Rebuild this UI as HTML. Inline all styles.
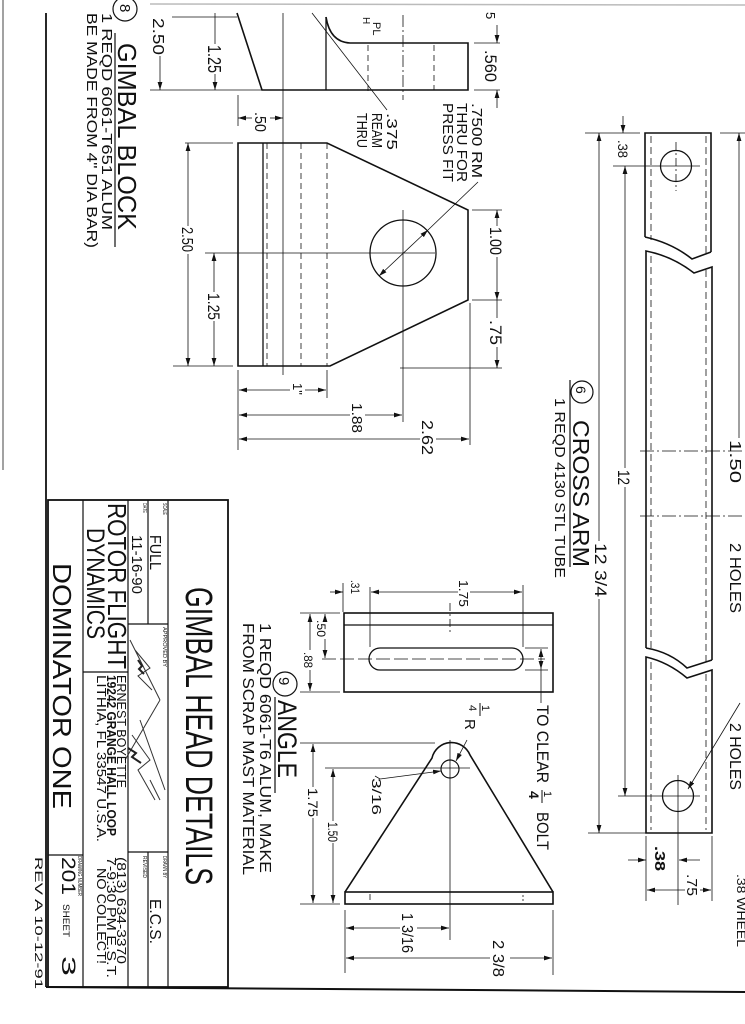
<!DOCTYPE html>
<html><head><meta charset="utf-8"><style>
html,body{margin:0;padding:0;background:#fff;}
svg{display:block;}
text{font-family:"Liberation Sans",sans-serif;fill:#111;}
</style></head><body>
<svg width="745" height="1024" viewBox="0 0 745 1024" xmlns="http://www.w3.org/2000/svg">
<defs>
<marker id="a" viewBox="0 0 10 6" refX="10" refY="3" markerWidth="8" markerHeight="5" markerUnits="userSpaceOnUse" orient="auto-start-reverse"><path d="M0,0 L10,3 L0,6z" fill="#111"/></marker>
</defs>
<rect width="745" height="1024" fill="#fff"/>
<line x1="150" y1="4" x2="745" y2="5" stroke="#bbb" stroke-width="1.5"/>
<line x1="3" y1="0" x2="3" y2="470" stroke="#444" stroke-width="1"/>

<!-- frame -->
<g stroke="#111" fill="none">
<line x1="46" y1="13" x2="46" y2="987" stroke-width="1.8"/>
<line x1="46" y1="987" x2="745" y2="992" stroke-width="2"/>
<!-- title block -->
<rect x="48" y="500" width="180" height="487" stroke-width="1.8"/>
<line x1="83" y1="500" x2="83" y2="987" stroke-width="1.2"/>
<line x1="128" y1="500" x2="128" y2="987" stroke-width="1.2"/>
<line x1="148" y1="500" x2="148" y2="624" stroke-width="1.2"/>
<line x1="148" y1="852" x2="148" y2="987" stroke-width="1.2"/>
<line x1="168" y1="500" x2="168" y2="987" stroke-width="1.2"/>
<line x1="128" y1="624" x2="168" y2="624" stroke-width="1.2"/>
<line x1="128" y1="852" x2="168" y2="852" stroke-width="1.2"/>
<line x1="83" y1="672" x2="128" y2="672" stroke-width="1.2"/>
<line x1="48" y1="855" x2="83" y2="855" stroke-width="1.2"/>
<!-- signature scribbles -->
<path d="M130,640 L160,700 M135,650 L150,668 L138,676 L152,690 M160,700 L125,760 M140,720 L165,790 M132,735 L150,760 L138,770 L155,800 M150,780 L160,800" stroke-width="1" stroke="#333"/>
<path d="M138,660 l4,6 l-3,3 l5,5 M128,748 l8,5 l-4,4 l9,6" stroke-width="2" stroke="#222"/>
</g>

<!-- title texts -->
<g>
<text transform="translate(186,587) rotate(90)" font-size="38" textLength="298" lengthAdjust="spacingAndGlyphs">GIMBAL HEAD DETAILS</text>
<text transform="translate(163,503) rotate(90)" font-size="5" textLength="12" lengthAdjust="spacingAndGlyphs">SCALE</text>
<text transform="translate(150,535) rotate(90)" font-size="16" textLength="35" lengthAdjust="spacingAndGlyphs">FULL</text>
<text transform="translate(143,503) rotate(90)" font-size="5" textLength="10" lengthAdjust="spacingAndGlyphs">DATE</text>
<text transform="translate(132,535) rotate(90)" font-size="15" textLength="59" lengthAdjust="spacingAndGlyphs">11-16-90</text>
<text transform="translate(108,503) rotate(90)" font-size="26" textLength="166" lengthAdjust="spacingAndGlyphs">ROTOR FLIGHT</text>
<text transform="translate(87,528) rotate(90)" font-size="25" textLength="111" lengthAdjust="spacingAndGlyphs">DYNAMICS</text>
<text transform="translate(163,627) rotate(90)" font-size="5" textLength="40" lengthAdjust="spacingAndGlyphs">APPROVED BY</text>
<text transform="translate(117,675) rotate(90)" font-size="13" textLength="113" lengthAdjust="spacingAndGlyphs">ERNEST BOYETTE</text>
<text transform="translate(117,857) rotate(90)" font-size="13" textLength="107" lengthAdjust="spacingAndGlyphs">(813) 634-3370</text>
<text transform="translate(107,675) rotate(90)" font-size="13" font-weight="bold" textLength="161" lengthAdjust="spacingAndGlyphs">19242 GRANGE HALL LOOP</text>
<text transform="translate(107,857) rotate(90)" font-size="13" textLength="121" lengthAdjust="spacingAndGlyphs">7-9:30 PM E.S.T.</text>
<text transform="translate(97,675) rotate(90)" font-size="13" textLength="167" lengthAdjust="spacingAndGlyphs">LITHIA, FL 33547 U.S.A.</text>
<text transform="translate(97,868) rotate(90)" font-size="13" textLength="96" lengthAdjust="spacingAndGlyphs">NO COLLECT!</text>
<text transform="translate(53,563) rotate(90)" font-size="26" textLength="246" lengthAdjust="spacingAndGlyphs">DOMINATOR ONE</text>
<text transform="translate(163,856) rotate(90)" font-size="5" textLength="22" lengthAdjust="spacingAndGlyphs">DRAWN BY</text>
<text transform="translate(150,899) rotate(90)" font-size="16" textLength="45" lengthAdjust="spacingAndGlyphs">E.C.S.</text>
<text transform="translate(143,856) rotate(90)" font-size="5" textLength="22" lengthAdjust="spacingAndGlyphs">REVISED</text>
<text transform="translate(78,856) rotate(90)" font-size="5" textLength="40" lengthAdjust="spacingAndGlyphs">DRAWING NUMBER</text>
<text transform="translate(62,857) rotate(90)" font-size="19" textLength="38" lengthAdjust="spacingAndGlyphs">201</text>
<text transform="translate(63,904) rotate(90)" font-size="9" textLength="33" lengthAdjust="spacingAndGlyphs">SHEET</text>
<text transform="translate(62,956) rotate(90)" font-size="19" textLength="20" lengthAdjust="spacingAndGlyphs">3</text>
<text transform="translate(35,857) rotate(90)" font-size="11" textLength="132" lengthAdjust="spacingAndGlyphs">REV A 10-12-91</text>
</g>

<!-- GIMBAL BLOCK -->
<g stroke="#111" fill="none">
<circle cx="125" cy="9" r="12" stroke-width="1.2"/>
<line x1="115" y1="33" x2="115" y2="247" stroke-width="1.2"/>
<!-- side view -->
<path d="M237,13 L262,90 L468,90 L468,43 L350,43 Q330,42 326,17" stroke-width="1.6"/>
<line x1="326" y1="17" x2="326" y2="90" stroke-width="1.3"/>
<line x1="283" y1="13" x2="283" y2="375" stroke-width="0.8"/>
<line x1="368" y1="45" x2="368" y2="92" stroke-width="0.8" stroke-dasharray="6,4"/>
<line x1="403" y1="15" x2="403" y2="100" stroke-width="0.8" stroke-dasharray="12,3,2,3"/>
<line x1="434" y1="45" x2="434" y2="90" stroke-width="0.8" stroke-dasharray="6,4"/>
<line x1="312" y1="13" x2="387" y2="110" stroke-width="0.8"/>
<!-- .560 -->
<line x1="474" y1="43" x2="500" y2="43" stroke-width="0.8"/>
<line x1="474" y1="90" x2="500" y2="90" stroke-width="0.8"/>
<line x1="497" y1="25" x2="497" y2="43" stroke-width="0.8" marker-end="url(#a)"/>
<line x1="497" y1="108" x2="497" y2="90" stroke-width="0.8" marker-end="url(#a)"/>
<!-- 2.50 top -->
<line x1="150" y1="90" x2="262" y2="90" stroke-width="0.8"/>
<line x1="172" y1="17" x2="237" y2="17" stroke-width="0.8"/>
<line x1="160" y1="56" x2="160" y2="90" stroke-width="0.8" marker-end="url(#a)"/>
<line x1="215" y1="13" x2="215" y2="44" stroke-width="0.8"/>
<line x1="215" y1="74" x2="215" y2="90" stroke-width="0.8" marker-end="url(#a)"/>
<!-- .50 -->
<line x1="238" y1="95" x2="238" y2="126" stroke-width="0.8"/>
<line x1="252" y1="118" x2="238" y2="118" stroke-width="0.8" marker-end="url(#a)"/>
<line x1="270" y1="118" x2="283" y2="118" stroke-width="0.8" marker-end="url(#a)"/>
<!-- front view -->
<path d="M238,143 L327,143 L468,210 L468,300 L330,366 L238,366 Z" stroke-width="1.6"/>
<line x1="263" y1="143" x2="263" y2="366" stroke-width="1.3"/>
<line x1="267" y1="143" x2="267" y2="366" stroke-width="0.8" stroke-dasharray="6,4"/>
<line x1="301" y1="143" x2="301" y2="366" stroke-width="0.8" stroke-dasharray="6,4"/>
<line x1="327" y1="143" x2="327" y2="366" stroke-width="0.8" stroke-dasharray="6,4"/>
<circle cx="403" cy="253" r="33" stroke-width="1.3"/>
<line x1="205" y1="253" x2="435" y2="253" stroke-width="0.8"/>
<line x1="403" y1="210" x2="403" y2="422" stroke-width="0.8"/>
<line x1="478" y1="182" x2="428" y2="230" stroke-width="0.8"/>
<line x1="428" y1="230" x2="379" y2="276" stroke-width="0.8" marker-start="url(#a)" marker-end="url(#a)"/>
<!-- 2.50 lower -->
<line x1="185" y1="143" x2="233" y2="143" stroke-width="0.8"/>
<line x1="173" y1="366" x2="233" y2="366" stroke-width="0.8"/>
<line x1="188" y1="226" x2="188" y2="143" stroke-width="0.8" marker-end="url(#a)"/>
<line x1="188" y1="254" x2="188" y2="366" stroke-width="0.8" marker-end="url(#a)"/>
<line x1="214" y1="292" x2="214" y2="253" stroke-width="0.8" marker-end="url(#a)"/>
<line x1="214" y1="321" x2="214" y2="366" stroke-width="0.8" marker-end="url(#a)"/>
<!-- 1.00 / .75 -->
<line x1="472" y1="210" x2="502" y2="210" stroke-width="0.8"/>
<line x1="472" y1="300" x2="502" y2="300" stroke-width="0.8"/>
<line x1="400" y1="368" x2="502" y2="368" stroke-width="0.8"/>
<line x1="497" y1="226" x2="497" y2="210" stroke-width="0.8" marker-end="url(#a)"/>
<line x1="497" y1="257" x2="497" y2="300" stroke-width="0.8" marker-end="url(#a)"/>
<line x1="497" y1="300" x2="497" y2="318" stroke-width="0.8"/>
<line x1="497" y1="347" x2="497" y2="368" stroke-width="0.8" marker-end="url(#a)"/>
<!-- 1" 1.88 2.62 -->
<line x1="238" y1="370" x2="238" y2="450" stroke-width="0.8"/>
<line x1="327" y1="370" x2="327" y2="398" stroke-width="0.8"/>
<line x1="470" y1="303" x2="470" y2="445" stroke-width="0.8"/>
<line x1="290" y1="390" x2="239" y2="390" stroke-width="0.8" marker-end="url(#a)"/>
<line x1="305" y1="390" x2="326" y2="390" stroke-width="0.8" marker-end="url(#a)"/>
<line x1="350" y1="415" x2="239" y2="415" stroke-width="0.8" marker-end="url(#a)"/>
<line x1="365" y1="415" x2="402" y2="415" stroke-width="0.8" marker-end="url(#a)"/>
<line x1="420" y1="439" x2="239" y2="439" stroke-width="0.8" marker-end="url(#a)"/>
<line x1="436" y1="439" x2="469" y2="439" stroke-width="0.8" marker-end="url(#a)"/>
</g>
<g>
<text transform="translate(120,4) rotate(90)" font-size="15">8</text>
<text transform="translate(118,43) rotate(90)" font-size="26" textLength="187" lengthAdjust="spacingAndGlyphs">GIMBAL BLOCK</text>
<text transform="translate(102,13) rotate(90)" font-size="15" textLength="217" lengthAdjust="spacingAndGlyphs">1 REQD  6061-T651 ALUM</text>
<text transform="translate(87,13) rotate(90)" font-size="15" textLength="235" lengthAdjust="spacingAndGlyphs">BE MADE FROM 4" DIA BAR)</text>
<text transform="translate(153,18) rotate(90)" font-size="16" textLength="37" lengthAdjust="spacingAndGlyphs">2.50</text>
<text transform="translate(208,45) rotate(90)" font-size="18" textLength="28" lengthAdjust="spacingAndGlyphs">1.25</text>
<text transform="translate(255,112) rotate(90)" font-size="16" textLength="20" lengthAdjust="spacingAndGlyphs">.50</text>
<text transform="translate(373,22) rotate(90)" font-size="11">PL</text>
<text transform="translate(363,17) rotate(90)" font-size="10">H</text>
<text transform="translate(387,113) rotate(90)" font-size="15" textLength="37" lengthAdjust="spacingAndGlyphs">.375</text>
<text transform="translate(372,113) rotate(90)" font-size="15" textLength="35" lengthAdjust="spacingAndGlyphs">REAM</text>
<text transform="translate(357,113) rotate(90)" font-size="15" textLength="35" lengthAdjust="spacingAndGlyphs">THRU</text>
<text transform="translate(472,103) rotate(90)" font-size="15" textLength="75" lengthAdjust="spacingAndGlyphs">.7500 RM</text>
<text transform="translate(457,103) rotate(90)" font-size="15" textLength="79" lengthAdjust="spacingAndGlyphs">THRU FOR</text>
<text transform="translate(443,103) rotate(90)" font-size="15" textLength="79" lengthAdjust="spacingAndGlyphs">PRESS FIT</text>
<text transform="translate(485,50) rotate(90)" font-size="17" textLength="32" lengthAdjust="spacingAndGlyphs">.560</text>
<text transform="translate(486,12) rotate(90)" font-size="13">5</text>
<text transform="translate(182,227) rotate(90)" font-size="16" textLength="25" lengthAdjust="spacingAndGlyphs">2.50</text>
<text transform="translate(208,293) rotate(90)" font-size="17" textLength="27" lengthAdjust="spacingAndGlyphs">1.25</text>
<text transform="translate(490,227) rotate(90)" font-size="17" textLength="28" lengthAdjust="spacingAndGlyphs">1.00</text>
<text transform="translate(490,320) rotate(90)" font-size="17" textLength="25" lengthAdjust="spacingAndGlyphs">.75</text>
<text transform="translate(293,383) rotate(90)" font-size="13">1"</text>
<text transform="translate(352,403) rotate(90)" font-size="15" textLength="30" lengthAdjust="spacingAndGlyphs">1.88</text>
<text transform="translate(422,420) rotate(90)" font-size="16" textLength="35" lengthAdjust="spacingAndGlyphs">2.62</text>
</g>

<!-- CROSS ARM -->
<g stroke="#111" fill="none">
<path d="M645,237 L645,133 L711,133 L711,252" stroke-width="1.6"/>
<path d="M645,237 Q672,243 692,259 L711,252" stroke-width="1.6"/>
<path d="M646,648 L646,251 Q672,256 694,273 L712,267 L712,660" stroke-width="1.6"/>
<path d="M646,648 Q670,652 687,668 L712,660" stroke-width="1.6"/>
<path d="M646,657 Q668,662 687,678 L712,670 L712,833 L646,833 Z" stroke-width="1.6"/>
<g stroke-width="0.8" stroke-dasharray="7,4">
<line x1="651" y1="136" x2="651" y2="240"/><line x1="706" y1="136" x2="706" y2="254"/>
<line x1="651" y1="256" x2="651" y2="650"/><line x1="706" y1="270" x2="706" y2="662"/>
<line x1="651" y1="662" x2="651" y2="830"/><line x1="706" y1="674" x2="706" y2="830"/>
</g>
<circle cx="676" cy="166" r="15.5" stroke-width="1.3"/>
<circle cx="678" cy="796" r="15.5" stroke-width="1.3"/>
<line x1="613" y1="166" x2="700" y2="166" stroke-width="0.8"/>
<line x1="676" y1="142" x2="676" y2="191" stroke-width="0.8" stroke-dasharray="8,3,2,3"/>
<line x1="618" y1="796" x2="700" y2="796" stroke-width="0.8"/>
<line x1="678" y1="775" x2="678" y2="905" stroke-width="0.8"/>
<line x1="640" y1="451" x2="745" y2="451" stroke-width="0.8" stroke-dasharray="14,3,2,3"/>
<line x1="640" y1="516" x2="745" y2="516" stroke-width="0.8" stroke-dasharray="14,3,2,3"/>
<line x1="585" y1="133" x2="640" y2="133" stroke-width="0.8"/>
<line x1="623" y1="116" x2="623" y2="133" stroke-width="0.8" marker-end="url(#a)"/>
<line x1="625" y1="468" x2="625" y2="166" stroke-width="0.8" marker-end="url(#a)"/>
<line x1="625" y1="487" x2="625" y2="796" stroke-width="0.8" marker-end="url(#a)"/>
<line x1="599" y1="541" x2="599" y2="133" stroke-width="0.8" marker-end="url(#a)"/>
<line x1="599" y1="599" x2="599" y2="833" stroke-width="0.8" marker-end="url(#a)"/>
<line x1="588" y1="833" x2="646" y2="833" stroke-width="0.8"/>
<line x1="720" y1="133" x2="745" y2="133" stroke-width="0.8"/>
<line x1="739" y1="438" x2="739" y2="133" stroke-width="0.8" marker-end="url(#a)"/>
<line x1="740" y1="703" x2="688" y2="789" stroke-width="0.8" marker-end="url(#a)"/>
<circle cx="582" cy="392" r="11" stroke-width="1.2"/>
<line x1="570" y1="380" x2="570" y2="567" stroke-width="1.2"/>
<!-- bottom dims -->
<line x1="646" y1="836" x2="646" y2="901" stroke-width="0.8"/>
<line x1="712" y1="836" x2="712" y2="901" stroke-width="0.8"/>
<line x1="628" y1="860" x2="646" y2="860" stroke-width="0.8" marker-end="url(#a)"/>
<line x1="700" y1="860" x2="679" y2="860" stroke-width="0.8" marker-end="url(#a)"/>
<line x1="685" y1="890" x2="647" y2="890" stroke-width="0.8" marker-end="url(#a)"/>
<line x1="700" y1="890" x2="711" y2="890" stroke-width="0.8" marker-end="url(#a)"/>
</g>
<g>
<text transform="translate(618,140) rotate(90)" font-size="14" textLength="18" lengthAdjust="spacingAndGlyphs">.38</text>
<text transform="translate(618,470) rotate(90)" font-size="17" textLength="15" lengthAdjust="spacingAndGlyphs">12</text>
<text transform="translate(595,543) rotate(90)" font-size="17" textLength="54" lengthAdjust="spacingAndGlyphs">12 3/4</text>
<text transform="translate(576,386) rotate(90)" font-size="14">6</text>
<text transform="translate(573,420) rotate(90)" font-size="23" textLength="147" lengthAdjust="spacingAndGlyphs">CROSS ARM</text>
<text transform="translate(555,398) rotate(90)" font-size="15" textLength="180" lengthAdjust="spacingAndGlyphs">1 REQD 4130 STL TUBE</text>
<text transform="translate(730,440) rotate(90)" font-size="16" textLength="43" lengthAdjust="spacingAndGlyphs">1.50</text>
<text transform="translate(730,543) rotate(90)" font-size="16" textLength="70" lengthAdjust="spacingAndGlyphs">2 HOLES</text>
<text transform="translate(730,723) rotate(90)" font-size="16" textLength="67" lengthAdjust="spacingAndGlyphs">2 HOLES</text>
<text transform="translate(655,846) rotate(90)" font-size="15" font-weight="bold" textLength="25" lengthAdjust="spacingAndGlyphs">.38</text>
<text transform="translate(687,874) rotate(90)" font-size="15" textLength="22" lengthAdjust="spacingAndGlyphs">.75</text>
<text transform="translate(737,874) rotate(90)" font-size="12" textLength="73" lengthAdjust="spacingAndGlyphs">.38 WHEEL</text>
</g>

<!-- ANGLE -->
<g stroke="#111" fill="none">
<rect x="344" y="613" width="209" height="79" stroke-width="1.6"/>
<line x1="344" y1="625" x2="553" y2="625" stroke-width="1.3"/>
<rect x="369" y="648" width="154" height="22" rx="11" stroke-width="1.3"/>
<line x1="322" y1="659" x2="545" y2="659" stroke-width="0.8" stroke-dasharray="14,4"/>
<line x1="450" y1="603" x2="450" y2="632" stroke-width="0.8" stroke-dasharray="8,3,2,3"/>
<line x1="343" y1="583" x2="343" y2="612" stroke-width="0.8"/>
<line x1="370" y1="587" x2="370" y2="647" stroke-width="0.8"/>
<line x1="523" y1="585" x2="523" y2="647" stroke-width="0.8"/>
<line x1="330" y1="592" x2="343" y2="592" stroke-width="0.8" marker-end="url(#a)"/>
<line x1="458" y1="592" x2="371" y2="592" stroke-width="0.8" marker-end="url(#a)"/>
<line x1="470" y1="592" x2="522" y2="592" stroke-width="0.8" marker-end="url(#a)"/>
<line x1="300" y1="613" x2="340" y2="613" stroke-width="0.8"/>
<line x1="300" y1="692" x2="340" y2="692" stroke-width="0.8"/>
<line x1="325" y1="619" x2="325" y2="614" stroke-width="0.8" marker-end="url(#a)"/>
<line x1="325" y1="639" x2="325" y2="658" stroke-width="0.8" marker-end="url(#a)"/>
<line x1="310" y1="650" x2="310" y2="614" stroke-width="0.8" marker-end="url(#a)"/>
<line x1="310" y1="670" x2="310" y2="691" stroke-width="0.8" marker-end="url(#a)"/>
<line x1="525" y1="648" x2="548" y2="648" stroke-width="0.8"/>
<line x1="525" y1="670" x2="548" y2="670" stroke-width="0.8"/>
<line x1="541" y1="649" x2="541" y2="669" stroke-width="0.8" marker-start="url(#a)" marker-end="url(#a)"/>
<line x1="541" y1="669" x2="541" y2="703" stroke-width="0.8"/>
<circle cx="285" cy="684" r="12" stroke-width="1.2"/>
<line x1="275" y1="697" x2="275" y2="793" stroke-width="1.2"/>
<!-- triangle -->
<path d="M345,892 L432,758 A20,20 0 0 1 470,755 L553,892" stroke-width="1.6"/>
<rect x="345" y="892" width="208" height="12" stroke-width="1.6"/>
<line x1="370" y1="894" x2="370" y2="900" stroke-width="0.8"/>
<line x1="523" y1="895" x2="523" y2="901" stroke-width="0.8" stroke-dasharray="2,2"/>
<circle cx="450" cy="769" r="9" stroke-width="1.2"/>
<line x1="325" y1="768" x2="470" y2="768" stroke-width="0.8"/>
<line x1="450" y1="740" x2="450" y2="940" stroke-width="0.8"/>
<line x1="467" y1="740" x2="456" y2="761" stroke-width="0.8" marker-end="url(#a)"/>
<polyline points="375,776 380,779 441,771" stroke-width="0.8" marker-end="url(#a)"/>
<line x1="300" y1="743" x2="435" y2="743" stroke-width="0.8"/>
<line x1="300" y1="904" x2="340" y2="904" stroke-width="0.8"/>
<line x1="313" y1="787" x2="313" y2="744" stroke-width="0.8" marker-end="url(#a)"/>
<line x1="313" y1="818" x2="313" y2="903" stroke-width="0.8" marker-end="url(#a)"/>
<line x1="333" y1="821" x2="333" y2="769" stroke-width="0.8" marker-end="url(#a)"/>
<line x1="333" y1="843" x2="333" y2="903" stroke-width="0.8" marker-end="url(#a)"/>
<line x1="345" y1="910" x2="345" y2="973" stroke-width="0.8"/>
<line x1="553" y1="910" x2="553" y2="975" stroke-width="0.8"/>
<line x1="400" y1="928" x2="346" y2="928" stroke-width="0.8" marker-end="url(#a)"/>
<line x1="417" y1="928" x2="449" y2="928" stroke-width="0.8" marker-end="url(#a)"/>
<line x1="490" y1="958" x2="346" y2="958" stroke-width="0.8" marker-end="url(#a)"/>
<line x1="510" y1="958" x2="552" y2="958" stroke-width="0.8" marker-end="url(#a)"/>
<line x1="480" y1="703" x2="480" y2="716" stroke-width="1"/>
<line x1="542" y1="790" x2="542" y2="803" stroke-width="1"/>
</g>
<g>
<text transform="translate(351,580) rotate(90)" font-size="12" textLength="14" lengthAdjust="spacingAndGlyphs">.31</text>
<text transform="translate(459,580) rotate(90)" font-size="13" textLength="27" lengthAdjust="spacingAndGlyphs">1.75</text>
<text transform="translate(317,620) rotate(90)" font-size="12" textLength="17" lengthAdjust="spacingAndGlyphs">.50</text>
<text transform="translate(304,652) rotate(90)" font-size="12" textLength="16" lengthAdjust="spacingAndGlyphs">.88</text>
<text transform="translate(279,677) rotate(90)" font-size="15">9</text>
<text transform="translate(278,700) rotate(90)" font-size="27" textLength="78" lengthAdjust="spacingAndGlyphs">ANGLE</text>
<text transform="translate(260,623) rotate(90)" font-size="16" textLength="250" lengthAdjust="spacingAndGlyphs">1 REQD      6061-T6 ALUM, MAKE</text>
<text transform="translate(243,623) rotate(90)" font-size="16" textLength="252" lengthAdjust="spacingAndGlyphs">FROM SCRAP MAST MATERIAL</text>
<text transform="translate(537,705) rotate(90)" font-size="17" textLength="78" lengthAdjust="spacingAndGlyphs">TO CLEAR</text>
<text transform="translate(544,791) rotate(90)" font-size="11">1</text>
<text transform="translate(529,791) rotate(90)" font-size="14" font-weight="bold">4</text>
<text transform="translate(537,812) rotate(90)" font-size="17" textLength="38" lengthAdjust="spacingAndGlyphs">BOLT</text>
<text transform="translate(482,705) rotate(90)" font-size="11">1</text>
<text transform="translate(469,705) rotate(90)" font-size="11">4</text>
<text transform="translate(465,719) rotate(90)" font-size="15">R</text>
<text transform="translate(372,778) rotate(90)" font-size="13" textLength="37" lengthAdjust="spacingAndGlyphs">3/16</text>
<text transform="translate(308,788) rotate(90)" font-size="14" textLength="29" lengthAdjust="spacingAndGlyphs">1.75</text>
<text transform="translate(328,822) rotate(90)" font-size="14" textLength="20" lengthAdjust="spacingAndGlyphs">1.50</text>
<text transform="translate(402,913) rotate(90)" font-size="16" textLength="40" lengthAdjust="spacingAndGlyphs">1 3/16</text>
<text transform="translate(493,940) rotate(90)" font-size="16" textLength="37" lengthAdjust="spacingAndGlyphs">2 3/8</text>
</g>
</svg>
</body></html>
